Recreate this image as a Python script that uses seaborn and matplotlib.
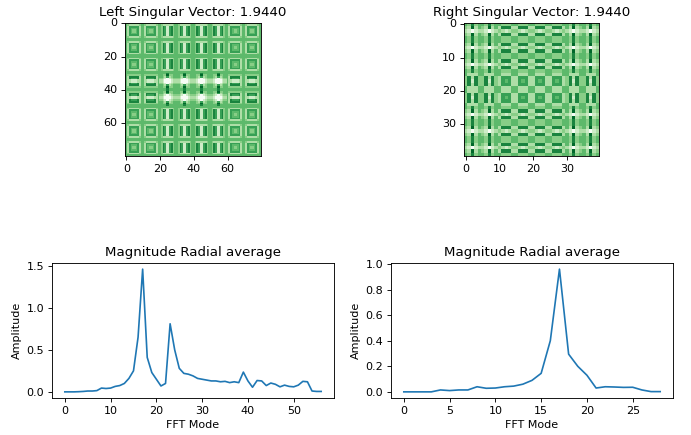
import numpy as np
import seaborn as sns
import matplotlib.pyplot as plt

# radial averages
left_radial = [0, 0, 0, 0.002, 0.005, 0.01, 0.01, 0.015, 0.045, 0.04, 0.045, 0.065, 0.075, 0.10, 0.16,
               0.25, 0.65, 1.46, 0.41, 0.23, 0.15, 0.07, 0.10, 0.81, 0.50, 0.28, 0.22, 0.21, 0.19, 0.16,
               0.15, 0.14, 0.13, 0.13, 0.12, 0.125, 0.11, 0.12, 0.11, 0.235, 0.13, 0.055, 0.135, 0.13,
               0.075, 0.105, 0.09, 0.06, 0.08, 0.065, 0.06, 0.08, 0.125, 0.12, 0.01, 0.005, 0.005]
right_radial = [0, 0, 0, 0, 0.015, 0.01, 0.015, 0.015, 0.04, 0.028, 0.03, 0.04, 0.045, 0.06, 0.09,
                0.145, 0.40, 0.96, 0.295, 0.20, 0.13, 0.03, 0.04, 0.038, 0.035, 0.036, 0.015, 0.002, 0.002]

# shade levels of the repeating cells (0 light, 9 dark), 5x5 on the right panel
dots_5 = ["54745", "43835", "32023", "43835", "54745"]
horiz_5 = ["54445", "37773", "43234", "37773", "54445"]
vert_5 = ["53335", "47374", "47274", "47374", "53335"]
frame_5 = ["53335", "36663", "36563", "36663", "53335"]

# same cells at 10x10 for the left panel
dots_10 = ["5555775555", "5544884455", "5543663455", "4432002344", "3320000233",
           "3320000233", "4432002344", "5543663455", "5544884455", "5555775555"]
horiz_10 = ["5555555555", "5444444445", "5377777735", "5376666735", "5332222335",
            "5332222335", "5376666735", "5377777735", "5444444445", "5555555555"]
vert_10 = ["5555555555", "5433333345", "5476226745", "5476226745", "5476226745",
           "5476226745", "5476226745", "5476226745", "5433333345", "5555555555"]
frame_10 = ["5555555555", "5433333345", "5366666635", "5365555635", "5365445635",
            "5365445635", "5365555635", "5366666635", "5433333345", "5555555555"]

right_layout = [["dots", "dots", "horiz", "horiz"],
                ["dots", "dots", "horiz", "horiz"],
                ["dots", "dots", "horiz", "horiz"],
                ["vert", "vert", "frame", "frame"]]
left_layout = [["frame", "frame", "vert", "vert"],
               ["frame", "frame", "vert", "vert"],
               ["frame", "frame", "vert", "vert"],
               ["horiz", "horiz", "dots", "dots"]]


def cell(rows):
    return np.array([[int(c) for c in r] for r in rows], dtype=float)


def build(layout, cells):
    # top left quarter from the cells, the rest is mirrored
    quarter = np.block([[cell(cells[name]) for name in row] for row in layout])
    top = np.hstack([quarter, quarter[:, ::-1]])
    return np.vstack([top, top[::-1]])


left_img = build(left_layout, {"dots": dots_10, "horiz": horiz_10, "vert": vert_10, "frame": frame_10})
right_img = build(right_layout, {"dots": dots_5, "horiz": horiz_5, "vert": vert_5, "frame": frame_5})

W, H = 691, 435
# drawn at 80 dpi so the default text and line sizes come out like the reference
fig = plt.figure(figsize=(W / 80, H / 80), dpi=80)


def add_axes(x0, y0, x1, y1):
    return fig.add_axes([x0 / W, 1 - y1 / H, (x1 - x0) / W, (y1 - y0) / H])


ax1 = add_axes(125.5, 22.5, 260.5, 156)
ax2 = add_axes(464, 22.5, 599, 156)
ax3 = add_axes(52, 263, 334, 398)
ax4 = add_axes(391, 263, 673, 398)

for ax, img, step, title in [(ax1, left_img, 20, "Left Singular Vector: 1.9440"),
                             (ax2, right_img, 10, "Right Singular Vector: 1.9440")]:
    sns.heatmap(img, cmap="Greens", vmin=0, vmax=9, cbar=False, ax=ax)
    ticks = np.arange(0, img.shape[0], step)
    ax.set_xticks(ticks + 0.5, ticks)
    ax.set_yticks(ticks + 0.5, ticks, rotation=0)
    ax.tick_params(axis="x", rotation=0)
    for s in ax.spines.values():
        s.set_visible(True)
    ax.set_title(title, fontsize=12)

for ax, vals in [(ax3, left_radial), (ax4, right_radial)]:
    sns.lineplot(x=np.arange(len(vals)), y=vals, ax=ax)
    ax.set_title("Magnitude Radial average", fontsize=12)
    ax.set_xlabel("FFT Mode")
    ax.set_ylabel("Amplitude")

fig.savefig("out.png", dpi=80)
